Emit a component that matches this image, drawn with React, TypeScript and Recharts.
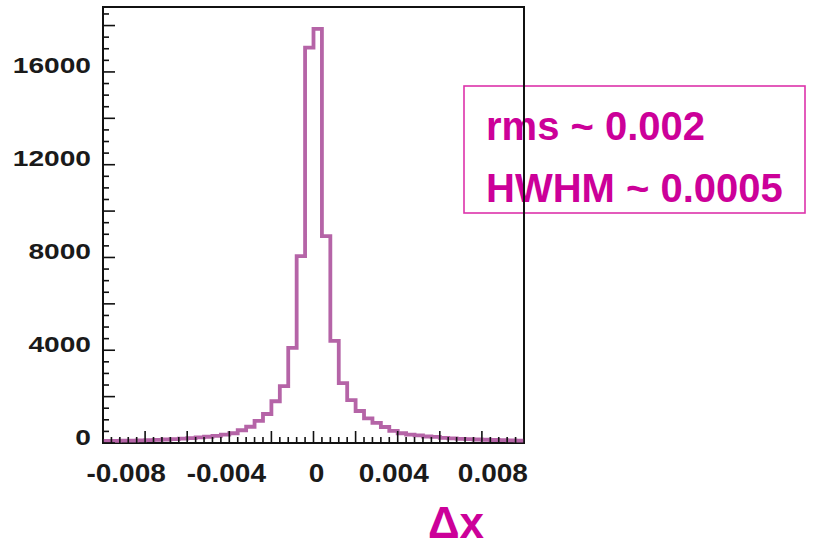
import { LineChart, Line, XAxis, YAxis, ReferenceArea, Customized } from "recharts";

// histogram of delta x, 50 bins of 0.0004 from -0.01 to 0.01
const BIN_LOW = -0.01;
const BIN_WIDTH = 0.0004;
const counts = [
  90, 95, 100, 105, 115, 125, 135, 150, 165, 190,
  210, 240, 270, 310, 360, 420, 550, 700, 950, 1250,
  1800, 2450, 4100, 8060, 17050, 17860, 8920, 4400, 2580, 1850,
  1380, 1060, 870, 690, 520, 420, 360, 330, 280, 260,
  220, 200, 180, 170, 150, 140, 130, 120, 110, 100,
];

const xTickValues = [-0.008, -0.004, 0, 0.004, 0.008];
const xTickLabels = ["-0.008", "-0.004", "0", "0.004", "0.008"];
const yTickValues = [0, 4000, 8000, 12000, 16000];
const yTickLabels = ["0", "4000", "8000", "12000", "16000"];
const statsLines = ["rms ~ 0.002", "HWHM ~ 0.0005"];
const xTitle = "\u0394x";

const round = (v: number) => Math.round(v * 1e6) / 1e6;

const data = counts.map((c, i) => ({ x: round(BIN_LOW + i * BIN_WIDTH), n: c }));
data.push({ x: round(BIN_LOW + counts.length * BIN_WIDTH), n: counts[counts.length - 1] });

// minor ticks every 0.0004 on x, every 500 on y
const xTicks = Array.from({ length: 51 }, (_, i) => round(BIN_LOW + i * BIN_WIDTH));
const yTicks = Array.from({ length: 38 }, (_, i) => i * 500);

const FONT = "'Liberation Sans', Arial, Helvetica, sans-serif";
const MAGENTA = "#cc0099";

const xNudge: Record<string, number> = { "-0.008": -19, "-0.004": -3, "0": 3, "0.004": -4, "0.008": 11 };

function XTick(props: any) {
  const { x, y, index } = props;
  const v = xTicks[index];
  const major = index % 5 === 0;
  const li = xTickValues.findIndex((t) => Math.abs(t - v) < 1e-9);
  return (
    <g>
      <line x1={x} x2={x} y1={y} y2={y - (major ? 12 : 6)} stroke="#111" strokeWidth={1.6} />
      {li >= 0 && (
        <text
          transform={`translate(${x + (xNudge[xTickLabels[li]] || 0)},${y + 39}) scale(1.12,1)`}
          textAnchor="middle"
          fontFamily={FONT}
          fontWeight="bold"
          fontSize={25}
          fill="#1a1a1a"
        >
          {xTickLabels[li]}
        </text>
      )}
    </g>
  );
}

function YTick(props: any) {
  const { x, y, payload } = props;
  const v = payload.value;
  const major = v % 2000 === 0;
  const li = yTickValues.indexOf(v);
  return (
    <g>
      <line x1={x} x2={x + (major ? 12 : 6)} y1={y} y2={y} stroke="#111" strokeWidth={1.6} />
      {li >= 0 && (
        <text
          transform={`translate(91,${y + 1.5}) scale(1.28,1)`}
          textAnchor="end"
          fontFamily={FONT}
          fontWeight="bold"
          fontSize={22}
          fill="#1a1a1a"
        >
          {yTickLabels[li]}
        </text>
      )}
    </g>
  );
}

function Overlay() {
  return (
    <g fontFamily={FONT} fontWeight="bold" fill={MAGENTA}>
      <rect x={464} y={86} width={341} height={127} fill="#fff" stroke="#dd33aa" strokeWidth={1.6} />
      <text x={486} y={140} fontSize={40}>{statsLines[0]}</text>
      <text x={486} y={202} fontSize={40}>{statsLines[1]}</text>
      <text x={456} y={538} fontSize={44} textAnchor="middle">{xTitle}</text>
    </g>
  );
}

export default function App() {
  return (
    <div style={{ position: "absolute", left: 0, top: 0, width: 817, height: 548, background: "#fff" }}>
      <LineChart width={817} height={548} data={data} margin={{ top: 7, right: 293, bottom: 0, left: 0 }}>
        <XAxis
          dataKey="x"
          type="number"
          domain={[-0.01, 0.01]}
          ticks={xTicks}
          interval={0}
          height={105}
          tickSize={0}
          tickMargin={0}
          tickLine={false}
          axisLine={false}
          tick={<XTick />}
          allowDataOverflow
        />
        <YAxis
          type="number"
          domain={[0, 18800]}
          ticks={yTicks}
          interval={0}
          width={103}
          tickSize={0}
          tickMargin={0}
          tickLine={false}
          axisLine={false}
          tick={<YTick />}
          allowDataOverflow
        />
        <Line
          type="stepAfter"
          dataKey="n"
          stroke="#b564a7"
          strokeWidth={3.8}
          dot={false}
          activeDot={false}
          isAnimationActive={false}
        />
        <ReferenceArea x1={-0.01} x2={0.01} y1={0} y2={18800} fill="none" stroke="#111" strokeWidth={2} />
        <Customized component={<Overlay />} />
      </LineChart>
    </div>
  );
}
